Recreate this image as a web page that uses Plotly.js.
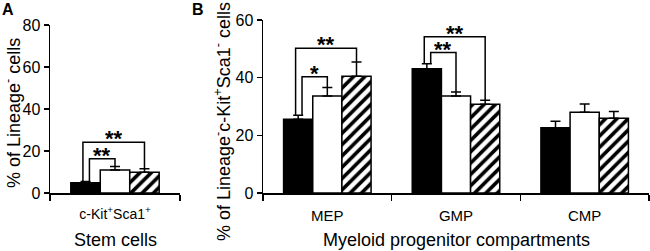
<!DOCTYPE html>
<html>
<head>
<meta charset="utf-8">
<script src="https://cdn.plot.ly/plotly-3.0.1.min.js"></script>
<style>
  html, body { margin: 0; padding: 0; background: #fff; }
  #chart { width: 650px; height: 251px; }
</style>
</head>
<body>
<div id="chart"></div>
<script>
// ---------- data ----------
const categoriesA = ['c-Kit<sup>+</sup>Sca1<sup>+</sup>'];
const categoriesB = ['MEP', 'GMP', 'CMP'];

const meanA_black   = [4.9];
const errA_black    = [0.6];
const meanA_white   = [11.0];
const errA_white    = [1.6];
const meanA_hatched = [9.9];
const errA_hatched  = [1.6];

const meanB_black   = [25.6, 43.1, 22.6];
const errB_black    = [1.4, 1.7, 2.3];
const meanB_white   = [33.6, 33.6, 28.0];
const errB_white    = [3.0, 1.4, 2.9];
const meanB_hatched = [40.5, 30.8, 25.9];
const errB_hatched  = [4.9, 1.4, 2.4];

// significance brackets: category index, from-series, to-series, bracket height, label
const bracketA_cat   = [0, 0];
const bracketA_from  = [0, 0];
const bracketA_to    = [2, 1];
const bracketA_y     = [24.2, 16.3];
const bracketA_label = ['**', '**'];

const bracketB_cat   = [0, 0, 1, 1];
const bracketB_from  = [0, 0, 0, 0];
const bracketB_to    = [2, 1, 2, 1];
const bracketB_y     = [50.2, 40.3, 54.2, 48.7];
const bracketB_label = ['**', '*', '**', '**'];

const yTicksA = [0, 20, 40, 60, 80];
const yTicksB = [0, 20, 40, 60];

const titleXA = 'Stem cells';
const titleXB = 'Myeloid progenitor compartments';
const titleYA = '% of Lineage<sup>-</sup> cells';
const titleYB = '% of Lineage<sup>-</sup>c-Kit<sup>+</sup>Sca1<sup>-</sup> cells';

// ---------- styling ----------
const FONT = 'Arial, "Liberation Sans", sans-serif';
const BARGAP = 0.32;
const NSER = 3;
const barW = (1 - BARGAP) / NSER;
const lineW = 1.5;
const legShift = {2: -0.02, 1: 0.03};   // left-leg shift (category units) for outer / inner brackets
const PLOT_W = 599, PLOT_H = 173, ML = 50, MT = 20;
const px2x = p => (p - ML) / PLOT_W;
const px2y = p => (MT + PLOT_H - p) / PLOT_H;

function barTrace(cats, mean, err, kind, xa, ya) {
  const t = {
    type: 'bar', x: cats, y: mean, xaxis: xa, yaxis: ya,
    showlegend: false, hoverinfo: 'skip',
    error_y: { type: 'data', array: err, arrayminus: err.map(() => 0), symmetric: false,
               color: '#000', thickness: lineW, width: 5 },
    marker: { color: kind === 'black' ? '#000' : '#fff', line: { color: '#000', width: lineW } }
  };
  if (kind === 'hatched') {
    t.marker.pattern = { shape: '/', fgcolor: '#000', bgcolor: '#fff', size: 8, solidity: 0.45, fillmode: 'replace' };
  }
  return t;
}

const data = [
  barTrace(categoriesA, meanA_black, errA_black, 'black', 'x', 'y'),
  barTrace(categoriesA, meanA_white, errA_white, 'white', 'x', 'y'),
  barTrace(categoriesA, meanA_hatched, errA_hatched, 'hatched', 'x', 'y'),
  barTrace(categoriesB, meanB_black, errB_black, 'black', 'x2', 'y2'),
  barTrace(categoriesB, meanB_white, errB_white, 'white', 'x2', 'y2'),
  barTrace(categoriesB, meanB_hatched, errB_hatched, 'hatched', 'x2', 'y2'),
];

const shapes = [];
const annotations = [];

function addBrackets(cats, from, to, ys, labels, means, errs, xref, yref) {
  for (let i = 0; i < cats.length; i++) {
    const c = cats[i];
    const xFrom = c - (1 - BARGAP) / 2 + barW * (from[i] + 0.5) + legShift[to[i] - from[i]];
    const xTo = c - (1 - BARGAP) / 2 + barW * (to[i] + 0.5);
    const yFromEnd = means[from[i]][c] + errs[from[i]][c];
    const yToEnd = means[to[i]][c] + errs[to[i]][c];
    const yb = ys[i];
    shapes.push({
      type: 'path', xref: xref, yref: yref,
      path: `M ${xFrom},${yFromEnd} L ${xFrom},${yb} L ${xTo},${yb} L ${xTo},${yToEnd}`,
      line: { color: '#000', width: lineW }
    });
    annotations.push({
      x: (xFrom + xTo) / 2, y: yb, xref: xref, yref: yref, text: '<b>' + labels[i] + '</b>',
      showarrow: false, yanchor: 'bottom', yshift: -11,
      font: { family: FONT, size: 22, color: '#000' }
    });
  }
}

addBrackets(bracketA_cat, bracketA_from, bracketA_to, bracketA_y, bracketA_label,
  [meanA_black, meanA_white, meanA_hatched], [errA_black, errA_white, errA_hatched], 'x', 'y');
addBrackets(bracketB_cat, bracketB_from, bracketB_to, bracketB_y, bracketB_label,
  [meanB_black, meanB_white, meanB_hatched], [errB_black, errB_white, errB_hatched], 'x2', 'y2');

const ann = (text, x, y, size, angle, bold) => ({
  xref: 'paper', yref: 'paper', x: px2x(x), y: px2y(y), xanchor: 'center', yanchor: 'middle',
  text: bold ? `<b>${text}</b>` : text, showarrow: false, textangle: angle || 0,
  font: { family: FONT, size: size, color: '#000' }
});
annotations.push(ann('A', 8, 9, 16, 0, true));
annotations.push(ann('B', 198, 10, 16, 0, true));
annotations.push(ann(titleXA, 115, 240, 18));
annotations.push(ann(titleXB, 457, 240, 18));
annotations.push(ann(titleYA, 12, 113, 18, -90));
annotations.push(ann(titleYB, 222, 122, 18, -90));

const yAxisBase = {
  showline: true, linecolor: '#000', linewidth: lineW, ticks: 'outside', ticklen: 5, tickwidth: lineW,
  tickcolor: '#000', showgrid: false, zeroline: false, tickfont: { family: FONT, size: 16, color: '#000' },
  fixedrange: true
};
const xAxisBase = {
  type: 'category', showline: true, linecolor: '#000', linewidth: lineW, ticks: 'outside', ticklen: 6,
  tickwidth: lineW, tickcolor: '#000', tickson: 'boundaries', showgrid: false, zeroline: false,
  ticklabelstandoff: 8, fixedrange: true
};

const layout = {
  width: 650, height: 251,
  margin: { l: ML, r: 1, t: MT, b: 58 },
  paper_bgcolor: '#fff', plot_bgcolor: '#fff',
  barmode: 'group', bargap: BARGAP, bargroupgap: 0,
  font: { family: FONT, color: '#000' },
  xaxis: Object.assign({}, xAxisBase, {
    domain: [0, 130/PLOT_W], anchor: 'y', range: [-0.5, 0.5],
    tickfont: { family: FONT, size: 14, color: '#000' }
  }),
  yaxis: Object.assign({}, yAxisBase, {
    domain: [0, 168/PLOT_H], anchor: 'x', range: [0, 80], tickvals: yTicksA
  }),
  xaxis2: Object.assign({}, xAxisBase, {
    domain: [213/PLOT_W, 1], anchor: 'y2', range: [-0.5, 2.5],
    tickfont: { family: FONT, size: 15, color: '#000' }
  }),
  yaxis2: Object.assign({}, yAxisBase, {
    domain: [0, 1], anchor: 'x2', range: [0, 60], tickvals: yTicksB
  }),
  shapes: shapes,
  annotations: annotations
};

Plotly.newPlot('chart', data, layout, { displayModeBar: false, staticPlot: true });
</script>
</body>
</html>
